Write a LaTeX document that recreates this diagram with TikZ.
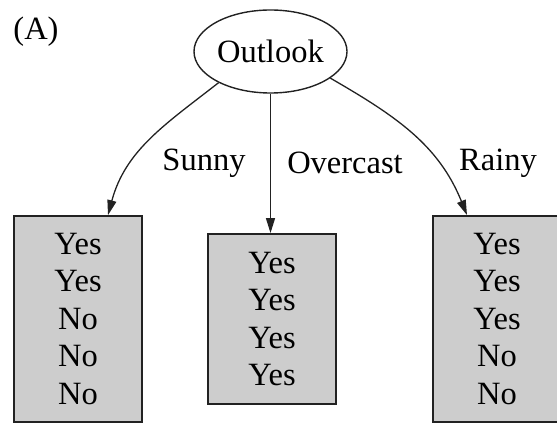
\documentclass[tikz,border=0pt]{standalone}
\usepackage{fontspec}
\setmainfont{Liberation Serif}
\usetikzlibrary{shapes.geometric,arrows.meta}
\definecolor{leafgray}{HTML}{CDCDCD}
\definecolor{inkdark}{HTML}{222222}
\tikzset{
  txt/.style={font=\fontsize{32.5}{37.5}\selectfont, text=black},
  attr/.style={txt, draw=inkdark, line width=1.4pt, ellipse,
               minimum width=153pt, minimum height=83pt, inner sep=0pt},
  leaf/.style={txt, draw=inkdark, fill=leafgray, line width=1.8pt,
               minimum width=128pt, inner sep=0pt, align=center},
  branch/.style={draw=inkdark, line width=1.3pt,
                 -{Triangle[length=15pt,width=9pt]}},
  lbl/.style={txt, inner sep=0pt}
}
\begin{document}
\begin{tikzpicture}[x=1pt,y=1pt]
  \useasboundingbox (0,0) rectangle (557,-425);
  \clip (0,0) rectangle (557,-425);

  \node[lbl] (tag) at (36,-32) {(A)};

  \node[attr] (outlook) at (270.5,-51.5) {Outlook};

  \node[leaf, minimum height=206pt] (sunny)    at (78,-319)
    {Yes\\Yes\\No\\No\\No};
  \node[leaf, minimum height=170pt] (overcast) at (272,-319)
    {Yes\\Yes\\Yes\\Yes};
  \node[leaf, minimum height=206pt] (rainy)    at (497,-319)
    {Yes\\Yes\\Yes\\No\\No};

  \draw[branch] (outlook.211) to[out=218,in=75]
    ([xshift=30pt]sunny.north);
  \draw[branch] (outlook.south) -- (outlook.south |- overcast.north);
  \draw[branch] (outlook.336) to[out=-30,in=112]
    ([xshift=-30pt]rainy.north);

  \node[lbl] (lsunny)    at (204,-163) {Sunny};
  \node[lbl] (lovercast) at (345,-163) {Overcast};
  \node[lbl] (lrainy)    at (498,-163) {Rainy};
\end{tikzpicture}
\end{document}
